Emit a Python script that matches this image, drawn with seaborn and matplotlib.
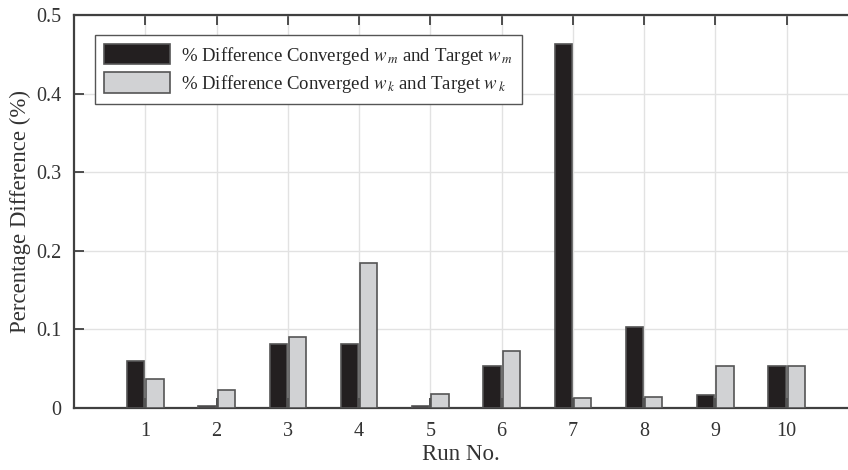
import matplotlib
matplotlib.use("Agg")
import matplotlib.pyplot as plt
import seaborn as sns
import pandas as pd

runs = [1, 2, 3, 4, 5, 6, 7, 8, 9, 10]
diff_wm = [0.060, 0.003, 0.082, 0.082, 0.003, 0.054, 0.463, 0.103, 0.017, 0.053]
diff_wk = [0.037, 0.023, 0.090, 0.185, 0.018, 0.073, 0.013, 0.014, 0.053, 0.054]
series_labels = [
    r"% Difference Converged $w_{\,m}$ and Target $w_{\,m}$",
    r"% Difference Converged $w_{\,k}$ and Target $w_{\,k}$",
]
y_ticks = [0, 0.1, 0.2, 0.3, 0.4, 0.5]
y_tick_labels = ["0", "0.1", "0.2", "0.3", "0.4", "0.5"]

df = pd.DataFrame({
    "run": runs * 2,
    "value": diff_wm + diff_wk,
    "series": [series_labels[0]] * len(runs) + [series_labels[1]] * len(runs),
})

sns.set_style("white")
plt.rcParams["font.family"] = ["Liberation Serif", "DejaVu Serif"]
plt.rcParams["mathtext.fontset"] = "stix"

axis_col = "#404040"
fig = plt.figure(figsize=(8.48, 4.70), dpi=100)
ax = fig.add_axes([74 / 848, 62 / 470, 1 - 74 / 848, 393 / 470])

sns.barplot(
    data=df, x="run", y="value", hue="series", native_scale=True,
    palette=["#231f20", "#d1d2d4"], width=0.54, gap=0.1,
    edgecolor="#555555", linewidth=1.2, saturation=1, errorbar=None,
    ax=ax, zorder=3,
)

ax.set_xlim(0, 10.86)
ax.set_ylim(0, 0.5)
ax.set_xticks(runs)
ax.set_xticklabels([str(r) for r in runs])
ax.set_yticks(y_ticks)
ax.set_yticklabels(y_tick_labels)

ax.grid(True, color="#e2e2e2", linewidth=1.0, zorder=0)
ax.set_axisbelow(True)

for side in ["left", "top", "bottom"]:
    ax.spines[side].set_visible(True)
    ax.spines[side].set_color(axis_col)
    ax.spines[side].set_linewidth(1.6)
ax.spines["right"].set_visible(False)

ax.tick_params(axis="both", direction="in", length=7, width=1.3,
               color=axis_col, labelsize=14.5, labelcolor="#333333",
               top=True, right=False, bottom=True, left=True)
ax.tick_params(axis="x", pad=10)
ax.tick_params(axis="y", pad=9)

ax.set_xlabel("Run No.", fontsize=16.5, color="#333333", labelpad=2)
ax.set_ylabel("Percentage Difference (%)", fontsize=16.5, color="#333333", labelpad=4)

handles, labels = ax.get_legend_handles_labels()
leg = ax.legend(
    handles, labels, loc="upper left", bbox_to_anchor=(0.027, 0.95),
    borderaxespad=0, fontsize=13.5, frameon=True, fancybox=False,
    framealpha=1, edgecolor="#555555", handlelength=3.5, handleheight=1.3,
    handletextpad=0.6, labelspacing=0.3, borderpad=0.5,
)
leg.get_frame().set_linewidth(1.0)

fig.savefig("out.png", dpi=100)
